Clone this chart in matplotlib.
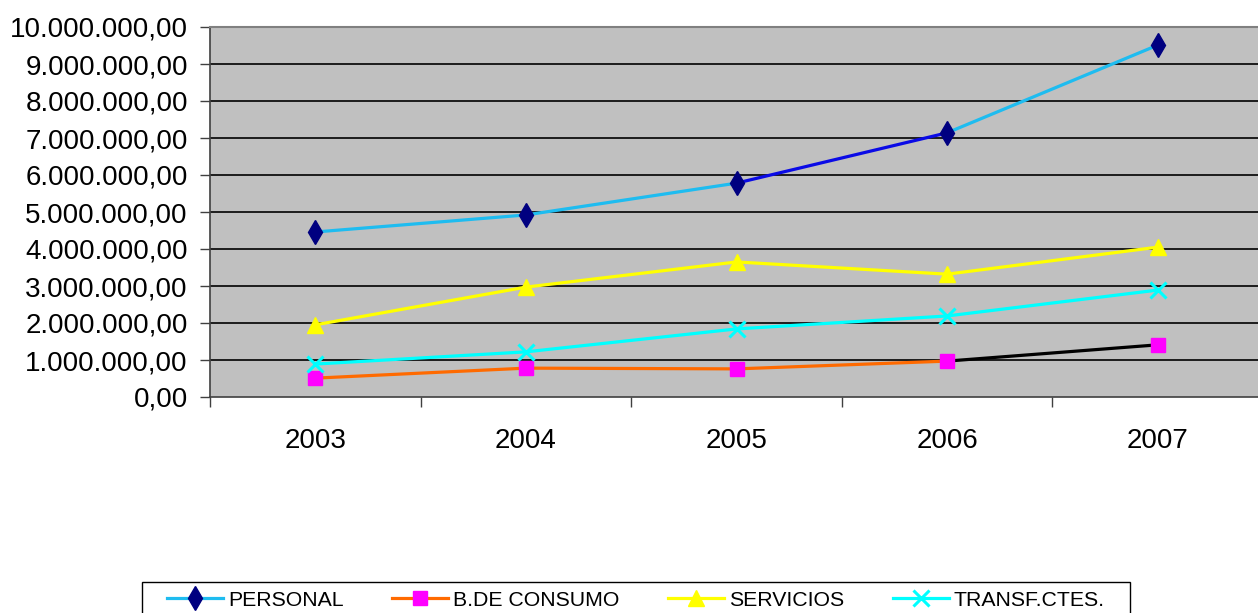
import matplotlib
matplotlib.use("Agg")
import matplotlib.pyplot as plt
from matplotlib.lines import Line2D
from matplotlib.patches import Rectangle
import numpy as np

plt.rcParams['font.family'] = ['Liberation Sans', 'DejaVu Sans']

years = ["2003", "2004", "2005", "2006", "2007"]
personal = [4460000, 4920000, 5780000, 7140000, 9510000]
consumo = [510000, 780000, 760000, 970000, 1410000]
servicios = [1950000, 2970000, 3650000, 3320000, 4050000]
transf = [890000, 1220000, 1840000, 2190000, 2890000]
series_names = ["PERSONAL", "B.DE CONSUMO", "SERVICIOS", "TRANSF.CTES."]
y_ticks = [0, 1e6, 2e6, 3e6, 4e6, 5e6, 6e6, 7e6, 8e6, 9e6, 10e6]

# segment colours (between consecutive points)
personal_seg = ["#1EBCF0", "#1EBCF0", "#0A0AE6", "#1EBCF0"]
consumo_seg = ["#FF6A00", "#FF6A00", "#FF6A00", "#000000"]
servicios_seg = ["#FFFF00"] * 4
transf_seg = ["#00FFFF"] * 4

W, H = 1258, 613
fig = plt.figure(figsize=(W / 100, H / 100), dpi=100)
left, right, top, bottom = 210, 1263, 27, 397
ax = fig.add_axes([left / W, 1 - bottom / H, (right - left) / W, (bottom - top) / H])
ax.set_facecolor("#C0C0C0")

x = np.arange(1, len(years) + 1)
ax.set_xlim(0.5, len(years) + 0.5)
ax.set_ylim(0, 10e6)

for yt in y_ticks[1:-1]:
    ax.axhline(yt, color="#000000", lw=1.2, zorder=1)

def draw(vals, segcols, marker, mfc, mec, ms, mew=1.0):
    for i in range(len(vals) - 1):
        ax.plot(x[i:i + 2], vals[i:i + 2], color=segcols[i], lw=2.3, zorder=2,
                solid_capstyle="butt")
    ax.plot(x, vals, linestyle="none", marker=marker, mfc=mfc, mec=mec, ms=ms,
            mew=mew, zorder=3)

draw(personal, personal_seg, "d", "#000080", "#000080", 12)
draw(consumo, consumo_seg, "s", "#FF00FF", "#FF00FF", 10)
draw(servicios, servicios_seg, "^", "#FFFF00", "#FFFF00", 11)
draw(transf, transf_seg, "x", "#00FFFF", "#00FFFF", 11, 2.2)

ax.set_yticks(y_ticks)
ax.set_yticklabels([f"{v:,.2f}".replace(",", "X").replace(".", ",").replace("X", ".") for v in y_ticks])
ax.set_xticks(x)
ax.set_xticklabels(years)
ax.set_xticks(np.arange(0.5, len(years) + 1.0, 1.0), minor=True)
ax.tick_params(axis="x", which="major", length=0, labelsize=20, pad=22.5)
ax.tick_params(axis="x", which="minor", length=7, width=1, color="#404040")
ax.tick_params(axis="y", length=7, width=1, color="#404040", labelsize=20, pad=9)

for s in ["left", "bottom"]:
    ax.spines[s].set_color("#404040")
    ax.spines[s].set_linewidth(1.2)
ax.spines["top"].set_color("#808080")
ax.spines["top"].set_linewidth(1.5)
ax.spines["right"].set_visible(False)

handles = [
    Line2D([], [], color="#1EBCF0", lw=2.3, marker="d", mfc="#000080", mec="#000080", ms=12),
    Line2D([], [], color="#FF6A00", lw=2.3, marker="s", mfc="#FF00FF", mec="#FF00FF", ms=10),
    Line2D([], [], color="#FFFF00", lw=2.3, marker="^", mfc="#FFFF00", mec="#FFFF00", ms=11),
    Line2D([], [], color="#00FFFF", lw=2.3, marker="x", mfc="#00FFFF", mec="#00FFFF", ms=11, mew=2.2),
]
leg = fig.legend(handles, series_names, loc="center left",
                 bbox_to_anchor=(167 / W, 1 - 600 / H), ncol=4, frameon=False,
                 fontsize=15.3, handlelength=2.62, columnspacing=2.3,
                 handletextpad=0.24, borderpad=0, borderaxespad=0)
fig.patches.append(Rectangle((142 / W, -0.05), (1130 - 142) / W, 0.05 + (613 - 582) / H,
                             transform=fig.transFigure, fill=False,
                             edgecolor="#000000", lw=1.0))

fig.savefig("out.png", dpi=100)
